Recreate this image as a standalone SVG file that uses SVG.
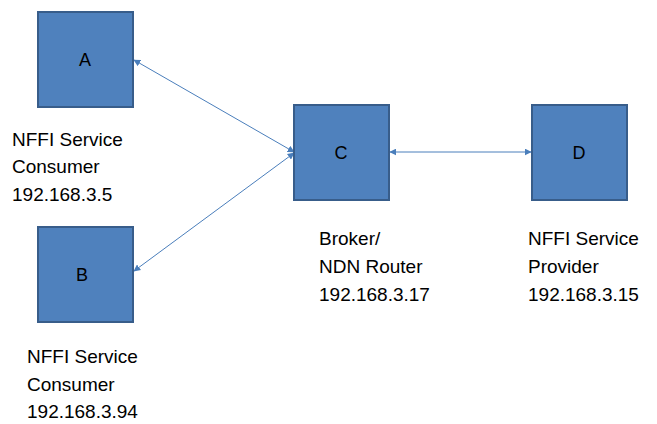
<svg xmlns="http://www.w3.org/2000/svg" width="657" height="424" viewBox="0 0 657 424">
<style>
.box{fill:#4F81BD;stroke:#385D8A;stroke-width:2}
.lbl{font-family:"Liberation Sans",Arial,sans-serif;font-size:18px;fill:#000;text-anchor:middle}
.txt{font-family:"Liberation Sans",Arial,sans-serif;font-size:19px;fill:#000}
.conn{stroke:#4A7EBB;stroke-width:1;fill:none;marker-start:url(#ah);marker-end:url(#ah)}
</style>
<defs>
<marker id="ah" viewBox="0 0 10 10" refX="9" refY="5" markerWidth="7" markerHeight="7" orient="auto-start-reverse" markerUnits="userSpaceOnUse">
<path d="M0,0 L10,5 L0,10 Z" fill="#4A7EBB"/>
</marker>
</defs>
<rect width="657" height="424" fill="#fff"/>
<g id="connectors">
<line class="conn" x1="134" y1="60" x2="294" y2="152"/>
<line class="conn" x1="134" y1="271" x2="294" y2="153"/>
<line class="conn" x1="390" y1="152" x2="531" y2="152"/>
</g>
<g id="A">
<rect class="box" x="38" y="12" width="95" height="95"/>
<text class="lbl" x="85" y="66">A</text>
</g>
<g id="B">
<rect class="box" x="38" y="227" width="95" height="95"/>
<text class="lbl" x="82" y="281">B</text>
</g>
<g id="C">
<rect class="box" x="294" y="105" width="95" height="95"/>
<text class="lbl" x="341" y="159">C</text>
</g>
<g id="D">
<rect class="box" x="532" y="105" width="95" height="95"/>
<text class="lbl" x="579" y="159">D</text>
</g>
<g id="labels">
<text class="txt" x="12" y="146">NFFI Service</text>
<text class="txt" x="12" y="173">Consumer</text>
<text class="txt" x="12" y="201">192.168.3.5</text>
<text class="txt" x="27" y="363">NFFI Service</text>
<text class="txt" x="27" y="391">Consumer</text>
<text class="txt" x="27" y="418">192.168.3.94</text>
<text class="txt" x="319" y="245">Broker/</text>
<text class="txt" x="319" y="273">NDN Router</text>
<text class="txt" x="319" y="301">192.168.3.17</text>
<text class="txt" x="528" y="245">NFFI Service</text>
<text class="txt" x="528" y="273">Provider</text>
<text class="txt" x="528" y="301">192.168.3.15</text>
</g>
</svg>
